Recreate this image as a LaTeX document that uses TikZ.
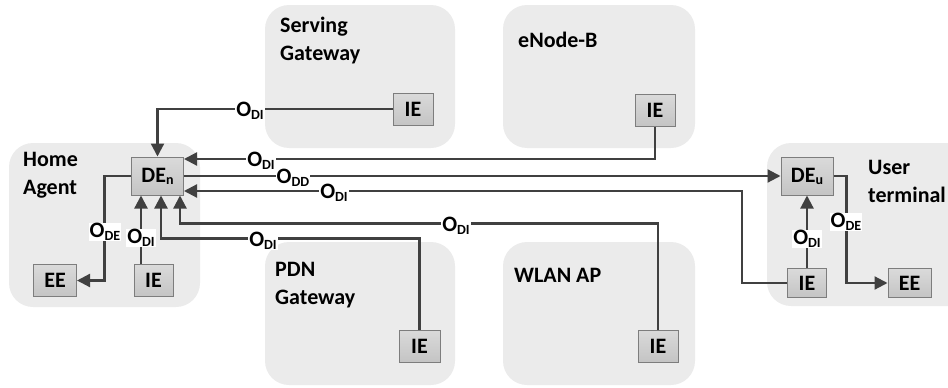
\documentclass[tikz,border=0pt]{standalone}
\usepackage{fontspec}
\setmainfont{Carlito}
\usetikzlibrary{arrows.meta}
\definecolor{panelc}{RGB}{235,235,235}
\definecolor{boxtop}{RGB}{218,218,218}
\definecolor{boxbot}{RGB}{196,196,196}
\definecolor{boxline}{RGB}{125,125,125}
\definecolor{linec}{RGB}{64,64,64}
\newcommand{\lbl}[1]{O\raisebox{-2.5pt}{\fontsize{14}{14}\selectfont #1}}
\tikzset{
  panel/.style={draw=none, fill=panelc, rounded corners=24pt},
  title/.style={anchor=base west, align=left, inner sep=0pt, font=\fontsize{22}{28}\selectfont\bfseries},
  elem/.style={draw=boxline, line width=1pt, top color=boxtop, bottom color=boxbot, inner sep=0pt,
     minimum width=40pt, minimum height=32pt, font=\fontsize{22}{22}\selectfont\bfseries},
  delem/.style={elem, minimum width=52pt, minimum height=38pt},
  conn/.style={draw=linec, line width=2.2pt},
  arr/.style={conn, -{Triangle[length=13pt,width=13pt]}},
  lab/.style={fill=white, inner sep=1pt, yshift=-2pt, font=\fontsize{22}{22}\selectfont\bfseries}
}
\begin{document}
\begin{tikzpicture}[x=1pt,y=-1pt]
\useasboundingbox (0,0) rectangle (948,388);
% panels
\fill[panel] (9,143) rectangle (200,307);
\fill[panel] (265,5) rectangle (455,148);
\fill[panel] (503,5) rectangle (695,148);
\fill[panel] (265,242) rectangle (455,385);
\fill[panel] (503,242) rectangle (695,385);
\fill[panel] (767,143) rectangle (975,306);
% titles (base = baseline of last line)
\node[title] (tha) at (23,194) {Home\\Agent};
\node[title] (tsg) at (280,60) {Serving\\Gateway};
\node[title] (tenb) at (518,47) {eNode-B};
\node[title] (tpdn) at (275,304) {PDN\\Gateway};
\node[title] (twlan) at (514,282) {WLAN AP};
\node[title] (tut) at (868,202) {User\\terminal};
% elements
\node[delem] (den) at (157.5,176) {DE\raisebox{-2pt}{\fontsize{14}{14}\selectfont n}};
\node[elem, minimum width=43pt] (hee) at (55,280.5) {EE};
\node[elem, minimum width=39pt] (hie) at (153.5,280.5) {IE};
\node[elem] (sie) at (413,109) {IE};
\node[elem] (eie) at (655,110) {IE};
\node[elem, minimum width=41pt] (pie) at (419.5,346) {IE};
\node[elem] (wie) at (658,346) {IE};
\node[delem] (deu) at (807,176) {DE\raisebox{-2pt}{\fontsize{14}{14}\selectfont u}};
\node[elem, minimum width=39pt, minimum height=29pt] (uie) at (807,283) {IE};
\node[elem, minimum width=43pt, minimum height=29pt] (uee) at (909.5,283) {EE};
% connectors
\draw[arr] (sie.west) -| (den.north);
\draw[arr] (eie.south) |- ([yshift=17pt]den.east);
\draw[arr] (den.east) -- (deu.west);
\draw[arr] (uie.west) -- ++(-45,0) |- ([yshift=-15pt]den.east);
\draw[arr] (uie.north) -- (deu.south);
\draw[arr] (deu.east) -- ++(13,0) |- (uee.west);
\draw[arr] (den.west) -- ++(-26.5,0) |- (hee.east);
\draw[arr] ([xshift=-12.5pt]hie.north) -- ([xshift=-16.5pt]den.south);
\draw[arr] (pie.north) -- ++(0,-91) -| ([xshift=3.5pt]den.south);
\draw[arr] (wie.north) -- ++(0,-106) -| ([xshift=22.5pt]den.south);
% labels
\node[lab] (l1) at (250,109) {\lbl{DI}};
\node[lab] (l2) at (261,159) {\lbl{DI}};
\node[lab] (l3) at (293,176) {\lbl{DD}};
\node[lab] (l4) at (334,191) {\lbl{DI}};
\node[lab] (l5) at (263,239) {\lbl{DI}};
\node[lab] (l6) at (456,224) {\lbl{DI}};
\node[lab] (l7) at (105,230) {\lbl{DE}};
\node[lab] (l8) at (141,236) {\lbl{DI}};
\node[lab] (l9) at (807,237) {\lbl{DI}};
\node[lab] (l10) at (846,220) {\lbl{DE}};
\end{tikzpicture}
\end{document}
